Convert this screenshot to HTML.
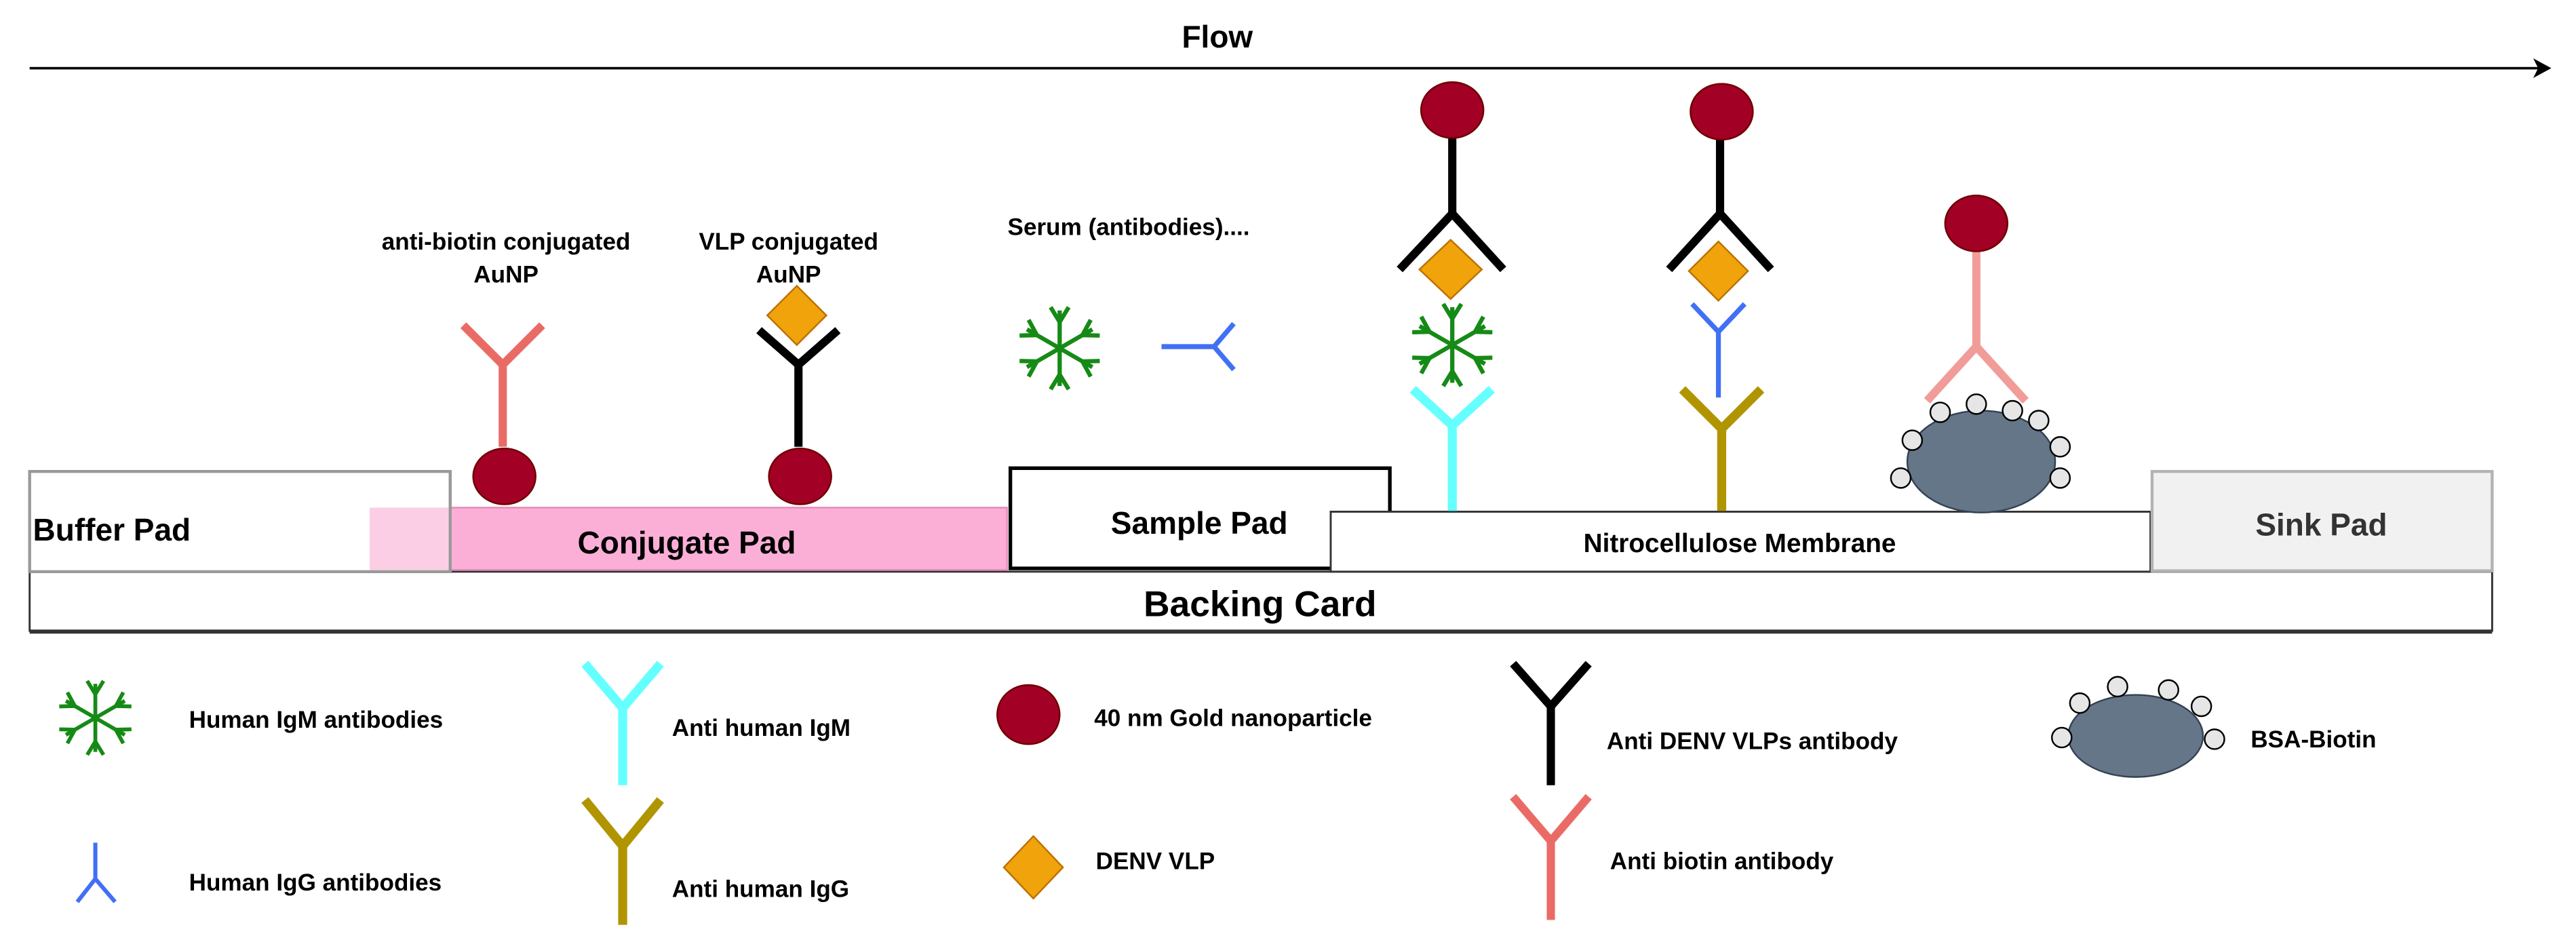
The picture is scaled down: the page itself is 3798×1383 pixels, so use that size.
<!DOCTYPE html>
<html><head><meta charset="utf-8"><style>
html,body{margin:0;padding:0;background:#fff;}
svg{display:block;}
text{font-family:"Liberation Sans",Arial,sans-serif;font-weight:bold;fill:#000;}
</style></head><body>
<svg width="3798" height="1383" viewBox="0 0 1568 571" xmlns="http://www.w3.org/2000/svg">
<defs>
<g id="arm"><line x1="0" y1="0" x2="0" y2="-23"/><line x1="0" y1="-16" x2="-5.5" y2="-25"/><line x1="0" y1="-16" x2="5.5" y2="-25"/></g>
<g id="star" stroke="#168a16" stroke-width="2.6" fill="none">
<use href="#arm"/><use href="#arm" transform="rotate(60)"/><use href="#arm" transform="rotate(120)"/>
<use href="#arm" transform="rotate(180)"/><use href="#arm" transform="rotate(240)"/><use href="#arm" transform="rotate(300)"/>
</g>
</defs>

<text x="741" y="29" font-size="19" text-anchor="middle">Flow</text>
<line x1="18" y1="41.5" x2="1545" y2="41.5" stroke="#000" stroke-width="1.5"/>
<path d="M1553,41.5 L1542,35.5 L1545,41.5 L1542,47.5 Z" fill="#000"/>

<rect x="18" y="348" width="1499" height="36" fill="#fff" stroke="#333" stroke-width="1.2"/>
<line x1="18" y1="384.5" x2="1517" y2="384.5" stroke="#333" stroke-width="2.5"/>
<text x="767" y="375" font-size="22" text-anchor="middle">Backing Card</text>

<rect x="18" y="287" width="256" height="61" fill="#fff" stroke="#999" stroke-width="1.8"/>
<rect x="225" y="309" width="49" height="38" fill="#fcc9e2" opacity="0.9"/>
<rect x="274" y="309" width="339" height="38" fill="#fbafd7" stroke="#e58ab4" stroke-width="1"/>
<line x1="274" y1="287" x2="274" y2="348" stroke="#999" stroke-width="1.8"/>
<text x="20" y="329" font-size="19">Buffer Pad</text>
<text x="418" y="337" font-size="19" text-anchor="middle">Conjugate Pad</text>

<rect x="615" y="285" width="231" height="61" fill="#fff" stroke="#000" stroke-width="2.2"/>
<text x="730" y="325" font-size="19" text-anchor="middle">Sample Pad</text>

<rect x="810" y="311.5" width="499" height="36.5" fill="#fff" stroke="#333" stroke-width="1.2"/>
<text x="1059" y="336" font-size="16" text-anchor="middle">Nitrocellulose Membrane</text>

<rect x="1310" y="287" width="207" height="60.5" fill="#f1f1f1" stroke="#b3b3b3" stroke-width="1.8"/>
<text x="1413" y="326" font-size="19" text-anchor="middle" style="fill:#333">Sink Pad</text>

<text x="308" y="152" font-size="14.5" text-anchor="middle">anti-biotin conjugated</text>
<text x="308" y="172" font-size="14.5" text-anchor="middle">AuNP</text>
<text x="480" y="152" font-size="14.5" text-anchor="middle">VLP conjugated</text>
<text x="480" y="172" font-size="14.5" text-anchor="middle">AuNP</text>
<text x="687" y="143" font-size="14.5" text-anchor="middle">Serum (antibodies)....</text>

<g stroke="#ea6b66" stroke-width="5" fill="none">
<polyline points="282,198 306,222 330,198"/><line x1="306" y1="222" x2="306" y2="272"/></g>
<ellipse cx="307" cy="290" rx="19" ry="17" fill="#a20025" stroke="#6f0000" stroke-width="1"/>

<g stroke="#000" stroke-width="5" fill="none">
<polyline points="462,201 486,222 510,201"/><line x1="486" y1="222" x2="486" y2="272"/></g>
<ellipse cx="487" cy="290" rx="19" ry="17" fill="#a20025" stroke="#6f0000" stroke-width="1"/>
<path d="M485,174 L503,192 L485,210 L467,192 Z" fill="#f0a30a" stroke="#bd7000" stroke-width="1"/>

<use href="#star" transform="translate(645,212)"/>
<g stroke="#4071f4" stroke-width="3" fill="none"><line x1="707" y1="211" x2="739" y2="211"/><polyline points="751,197 739,211 751,225"/></g>

<g stroke="#66ffff" stroke-width="5.5" fill="none"><polyline points="860,237 884,259 908,237"/><line x1="884" y1="259" x2="884" y2="311"/></g>
<use href="#star" transform="translate(884,210)"/>
<path d="M883,146 L902,164 L883,182 L864,164 Z" fill="#f0a30a" stroke="#bd7000" stroke-width="1"/>
<g stroke="#000" stroke-width="5" fill="none"><polyline points="852,164 884,130 915,164"/><line x1="884" y1="130" x2="884" y2="84"/></g>
<ellipse cx="884" cy="67" rx="19" ry="17" fill="#a20025" stroke="#6f0000" stroke-width="1"/>

<g stroke="#b09500" stroke-width="5.5" fill="none"><polyline points="1024,237 1048,261 1072,237"/><line x1="1048" y1="261" x2="1048" y2="311"/></g>
<g stroke="#4071f4" stroke-width="3" fill="none"><polyline points="1030,185 1046,202 1062,185"/><line x1="1046" y1="202" x2="1046" y2="242"/></g>
<path d="M1046,147 L1064,165 L1046,183 L1028,165 Z" fill="#f0a30a" stroke="#bd7000" stroke-width="1"/>
<g stroke="#000" stroke-width="5" fill="none"><polyline points="1016,164 1047,130 1078,164"/><line x1="1047" y1="130" x2="1047" y2="85"/></g>
<ellipse cx="1048" cy="68" rx="19" ry="17" fill="#a20025" stroke="#6f0000" stroke-width="1"/>

<g stroke="#f19c99" stroke-width="5" fill="none"><polyline points="1173,244 1203,211 1233,244"/><line x1="1203" y1="211" x2="1203" y2="153"/></g>
<ellipse cx="1203" cy="136" rx="19" ry="17" fill="#a20025" stroke="#6f0000" stroke-width="1"/>
<ellipse cx="1206" cy="281" rx="45" ry="31" fill="#647687" stroke="#314354" stroke-width="1"/>
<g fill="#e6e6e6" stroke="#000" stroke-width="1">
<circle cx="1181" cy="251" r="6"/><circle cx="1203" cy="246" r="6"/><circle cx="1225" cy="250" r="6"/><circle cx="1241" cy="256" r="6"/>
<circle cx="1164" cy="268" r="6"/><circle cx="1254" cy="272" r="6"/><circle cx="1157" cy="291" r="6"/><circle cx="1254" cy="291" r="6"/>
</g>

<use href="#star" transform="translate(58,437) scale(0.9)"/>
<text x="115" y="443" font-size="14.5">Human IgM antibodies</text>
<g stroke="#4071f4" stroke-width="2.5" fill="none"><line x1="58" y1="513" x2="58" y2="535"/><polyline points="47,549 58,535 70,549"/></g>
<text x="115" y="542" font-size="14.5">Human IgG antibodies</text>

<g stroke="#66ffff" stroke-width="5.5" fill="none"><polyline points="356,404 379,431 402,404"/><line x1="379" y1="431" x2="379" y2="478"/></g>
<text x="409" y="448" font-size="14.5">Anti human IgM</text>
<g stroke="#b09500" stroke-width="5.5" fill="none"><polyline points="356,487 379,515 402,487"/><line x1="379" y1="515" x2="379" y2="563"/></g>
<text x="409" y="546" font-size="14.5">Anti human IgG</text>

<ellipse cx="626" cy="435" rx="19" ry="18" fill="#a20025" stroke="#6f0000" stroke-width="1"/>
<text x="666" y="442" font-size="14.5">40 nm Gold nanoparticle</text>
<path d="M629,509 L647,528 L629,547 L611,528 Z" fill="#f0a30a" stroke="#bd7000" stroke-width="1"/>
<text x="667" y="529" font-size="14.5">DENV VLP</text>

<g stroke="#000" stroke-width="5" fill="none"><polyline points="921,404 944,430 967,404"/><line x1="944" y1="430" x2="944" y2="478"/></g>
<text x="978" y="456" font-size="14.5">Anti DENV VLPs antibody</text>
<g stroke="#ea6b66" stroke-width="5" fill="none"><polyline points="921,485 944,512 967,485"/><line x1="944" y1="512" x2="944" y2="560"/></g>
<text x="980" y="529" font-size="14.5">Anti biotin antibody</text>

<ellipse cx="1300" cy="448" rx="41" ry="25" fill="#647687" stroke="#314354" stroke-width="1"/>
<g fill="#e6e6e6" stroke="#000" stroke-width="1">
<circle cx="1255" cy="449" r="6"/><circle cx="1266" cy="428" r="6"/><circle cx="1289" cy="418" r="6"/>
<circle cx="1320" cy="420" r="6"/><circle cx="1340" cy="430" r="6"/><circle cx="1348" cy="450" r="6"/>
</g>
<text x="1370" y="455" font-size="14.5">BSA-Biotin</text>
</svg>
</body></html>
